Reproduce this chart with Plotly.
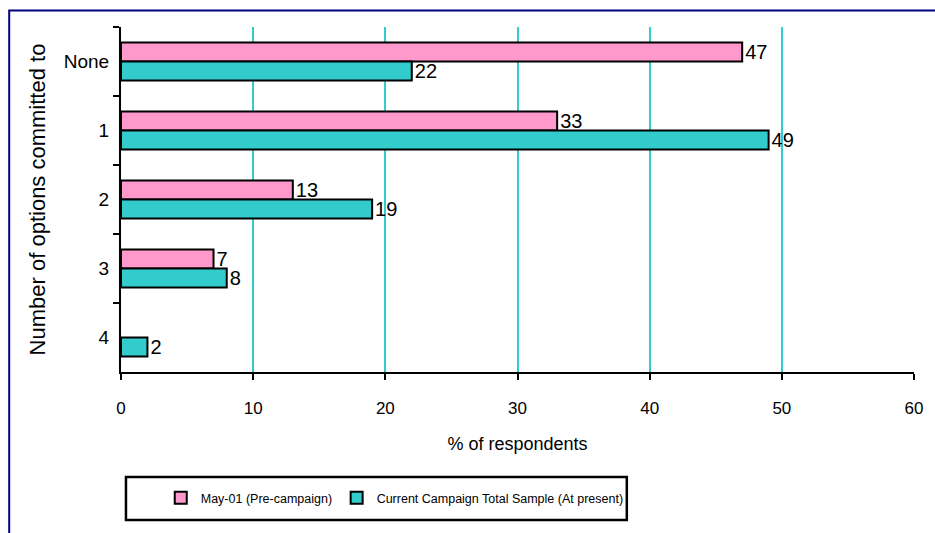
import plotly.graph_objects as go

categories = ["None", "1", "2", "3", "4"]
pre_campaign = [47, 33, 13, 7, None]
current_campaign = [22, 49, 19, 8, 2]
series_names = ["May-01 (Pre-campaign)", "Current Campaign Total Sample (At present)"]
x_ticks = [0, 10, 20, 30, 40, 50, 60]

PINK = "#FF99CC"
TEAL = "#33CCCC"
FONT = "Liberation Sans"

W, H = 935, 533
ML, MR, MT, MB = 121, 16, 27, 161
PW, PH = W - ML - MR, H - MT - MB


def px_x(p):
    return (p - ML) / PW


def px_y(p):
    return 1 - (p - MT) / PH


fig = go.Figure()
for name, vals, col, leg in [(series_names[0], pre_campaign, PINK, "legend"),
                             (series_names[1], current_campaign, TEAL, "legend2")]:
    fig.add_trace(go.Bar(
        y=categories, x=vals, name=name, orientation="h", legend=leg,
        marker=dict(color=col, line=dict(color="black", width=2)),
        text=[("" if v is None else str(v)) for v in vals],
        textposition="outside", cliponaxis=False, constraintext="none",
        textfont=dict(family=FONT, size=20, color="black"),
    ))

shapes = [
    # outer frame
    dict(type="rect", xref="paper", yref="paper",
         x0=px_x(8.5), x1=px_x(960), y0=px_y(560), y1=px_y(10.5),
         line=dict(color="#000080", width=2), fillcolor="rgba(0,0,0,0)", layer="below"),
    # legend box
    dict(type="rect", xref="paper", yref="paper",
         x0=px_x(126), x1=px_x(630), y0=px_y(520), y1=px_y(477),
         line=dict(color="black", width=2.5), fillcolor="rgba(0,0,0,0)"),
]

leg_common = dict(orientation="h", yanchor="middle", xanchor="left",
                  bgcolor="rgba(0,0,0,0)", borderwidth=0,
                  font=dict(family=FONT, size=12.5, color="black"))

fig.update_layout(
    width=W, height=H,
    margin=dict(l=ML, r=MR, t=MT, b=MB, pad=0),
    paper_bgcolor="white", plot_bgcolor="white",
    barmode="group", bargap=0.45, bargroupgap=0,
    font=dict(family=FONT, size=17, color="black"),
    showlegend=True,
    legend=dict(x=px_x(161), y=px_y(498), **leg_common),
    legend2=dict(x=px_x(338), y=px_y(498), **leg_common),
    shapes=shapes,
    xaxis=dict(range=[0, 60], tickvals=x_ticks, showgrid=True, gridcolor=TEAL, gridwidth=1.5,
               zeroline=False, showline=True, linecolor="black", linewidth=2,
               ticks="outside", ticklen=6, tickwidth=2, tickcolor="black",
               ticklabelstandoff=14,
               tickfont=dict(family=FONT, size=17),
               title=dict(text="% of respondents", font=dict(family=FONT, size=18), standoff=20)),
    yaxis=dict(autorange="reversed", showgrid=False, showline=True, linecolor="black", linewidth=2,
               ticks="outside", ticklen=6, tickwidth=2, tickcolor="black", tickson="boundaries",
               ticklabelstandoff=6,
               tickfont=dict(family=FONT, size=19),
               title=dict(text="Number of options committed to", font=dict(family=FONT, size=22),
                          standoff=12)),
)

fig.write_html("out.html")
